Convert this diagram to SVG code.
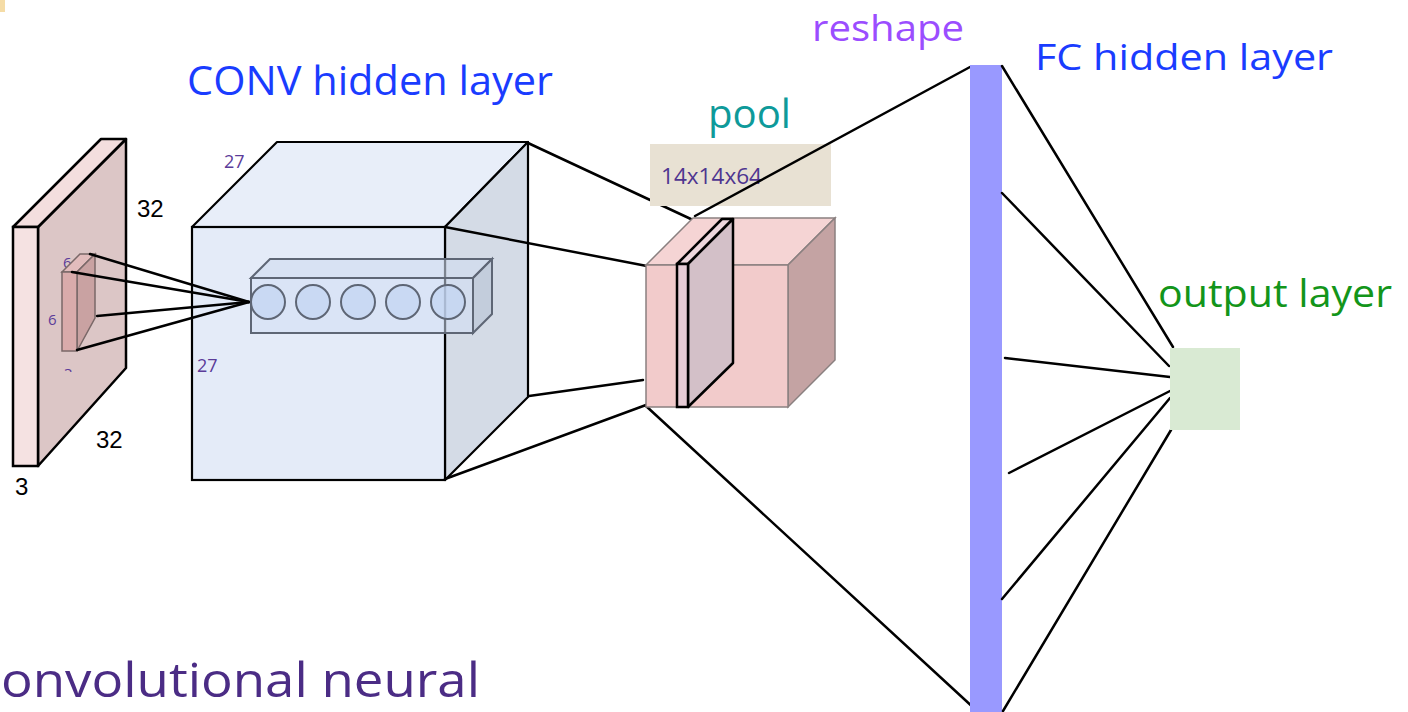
<svg xmlns="http://www.w3.org/2000/svg" width="1408" height="712" viewBox="0 0 1408 712">
<style>
.edge{stroke:#000;stroke-width:2.5;fill:none;stroke-linecap:round}
.lab{font-family:"Open Sans","Liberation Sans",sans-serif}
.dim{font-family:"Liberation Sans",Arial,sans-serif;fill:#000;font-size:24px}
.sm{font-family:"Open Sans","Liberation Sans",sans-serif;fill:#5b3c99}
</style>
<defs>
<clipPath id="clip3"><rect x="50" y="355" width="40" height="17"/></clipPath>
</defs>
<rect x="0" y="0" width="5" height="12" fill="#f5dca6"/>

<g id="input">
<polygon points="38,227 126,139 126,368 38,466" fill="#dcc6c6" stroke="#000" stroke-width="2.5" stroke-linejoin="round"/>
<polygon points="13,227 38,227 126,139 101,139" fill="#f3dede" stroke="#000" stroke-width="2.5" stroke-linejoin="round"/>
<rect x="13" y="227" width="25" height="239" fill="#f5e2e2" stroke="#000" stroke-width="2.5"/>
<text class="dim" x="137" y="217">32</text>
<text class="dim" x="96" y="448">32</text>
<text class="dim" x="15" y="495" font-size="25">3</text>
<text class="sm" x="63" y="268" font-size="15">6</text>
<text class="sm" x="48" y="325" font-size="15">6</text>
<text class="sm" x="64" y="379" font-size="15" clip-path="url(#clip3)">3</text>
</g>

<g id="filter">
<polygon points="62,272 77,272 95,254 80,254" fill="#e2bcbc" stroke="#7a6868" stroke-width="1.5"/>
<polygon points="77,272 95,254 95,318 77,351" fill="#c9a2a2" stroke="#7a6868" stroke-width="1.5"/>
<rect x="62" y="272" width="15" height="79" fill="#d9abab" stroke="#7a6868" stroke-width="1.5"/>
</g>

<g id="conv">
<polygon points="192,227 277,142 528,142 445,227" fill="#e8eef9" stroke="#000" stroke-width="2.2" stroke-linejoin="round"/>
<polygon points="445,227 528,142 528,397 445,480" fill="#d4dbe6" stroke="#000" stroke-width="2.2" stroke-linejoin="round"/>
<rect x="192" y="227" width="253" height="253" fill="#e4ebf8" stroke="#000" stroke-width="2.2"/>
<text class="sm" x="224" y="168" font-size="18">27</text>
<text class="sm" x="197" y="372" font-size="18">27</text>
</g>

<g id="connectors-filter">
<line class="edge" x1="90" y1="254" x2="249" y2="302" stroke-width="2"/>
<line class="edge" x1="72" y1="272" x2="249" y2="302" stroke-width="2"/>
<line class="edge" x1="97" y1="316" x2="249" y2="302" stroke-width="2"/>
<line class="edge" x1="77" y1="350" x2="249" y2="302" stroke-width="2"/>
</g>

<g id="neurons">
<polygon points="251,278 270,259 492,259 473,278" fill="#d0dcf0" fill-opacity="0.6" stroke="#5e6675" stroke-width="2"/>
<polygon points="473,278 492,259 492,314 473,333" fill="#b8c3d6" fill-opacity="0.6" stroke="#5e6675" stroke-width="2"/>
<rect x="251" y="278" width="222" height="55" fill="#d2def4" fill-opacity="0.55" stroke="#5e6675" stroke-width="2"/>
<g fill="#c2d4f2" fill-opacity="0.7" stroke="#5e6675" stroke-width="2">
<circle cx="268" cy="302" r="17"/>
<circle cx="313" cy="302" r="17"/>
<circle cx="358" cy="302" r="17"/>
<circle cx="403" cy="302" r="17"/>
<circle cx="448" cy="302" r="17"/>
</g>
</g>

<g id="connectors">
<line class="edge" x1="528" y1="143" x2="693" y2="220"/>
<line class="edge" x1="445" y1="227" x2="652" y2="267"/>
<line class="edge" x1="529" y1="396" x2="643" y2="380"/>
<line class="edge" x1="445" y1="479" x2="646" y2="405"/>
<line class="edge" x1="646" y1="406" x2="976" y2="710"/>
</g>

<g id="pool">
<rect x="650" y="144" width="181" height="62" fill="#e8e1d3"/>
<text class="lab" x="661" y="184" font-size="21" fill="#4e3590" textLength="101" lengthAdjust="spacingAndGlyphs">14x14x64</text>
<polygon points="646,265 693,218 835,218 788,265" fill="#f5d4d4" stroke="#8a8080" stroke-width="1.5"/>
<polygon points="788,265 835,218 835,360 788,407" fill="#c4a3a3" stroke="#8a8080" stroke-width="1.5"/>
<rect x="646" y="265" width="142" height="142" fill="#f2cbcb" stroke="#8a8080" stroke-width="1.5"/>
<polygon points="677,264 688,264 733,219 722,219" fill="#ecd6dc" stroke="#000" stroke-width="2.5" stroke-linejoin="round"/>
<polygon points="688,264 733,219 733,363 688,407" fill="#d3c0c8" stroke="#000" stroke-width="2.5" stroke-linejoin="round"/>
<rect x="677" y="264" width="11" height="143" fill="#e6ccd6" stroke="#000" stroke-width="2.5"/>
<line class="edge" x1="695" y1="216" x2="970" y2="67"/>
</g>

<g id="fc">
<rect x="970" y="65" width="32" height="647" fill="#9999ff"/>
</g>

<g id="connectors-out">
<line class="edge" x1="1002" y1="66" x2="1173" y2="347"/>
<line class="edge" x1="1002" y1="193" x2="1169" y2="366"/>
<line class="edge" x1="1005" y1="358" x2="1170" y2="377"/>
<line class="edge" x1="1009" y1="473" x2="1170" y2="391"/>
<line class="edge" x1="1002" y1="599" x2="1170" y2="398"/>
<line class="edge" x1="1003" y1="711" x2="1171" y2="430"/>
</g>

<g id="output">
<rect x="1170" y="348" width="70" height="82" fill="#d9ead3"/>
</g>

<g id="labels">
<text class="lab" x="812" y="41" font-size="36" fill="#9b4dff" textLength="152" lengthAdjust="spacingAndGlyphs">reshape</text>
<text class="lab" x="1035" y="70" font-size="37" fill="#1a3cff" textLength="298" lengthAdjust="spacingAndGlyphs">FC hidden layer</text>
<text class="lab" x="187" y="95" font-size="40" fill="#1a3cff" textLength="366" lengthAdjust="spacingAndGlyphs">CONV hidden layer</text>
<text class="lab" x="708" y="128" font-size="40" fill="#0e9a9a" textLength="83" lengthAdjust="spacingAndGlyphs">pool</text>
<text class="lab" x="1158" y="307" font-size="38" fill="#13951a" textLength="234" lengthAdjust="spacingAndGlyphs">output layer</text>
<text class="lab" x="1" y="697" font-size="47" fill="#4b2c85" textLength="479" lengthAdjust="spacingAndGlyphs">onvolutional neural</text>
</g>
</svg>
